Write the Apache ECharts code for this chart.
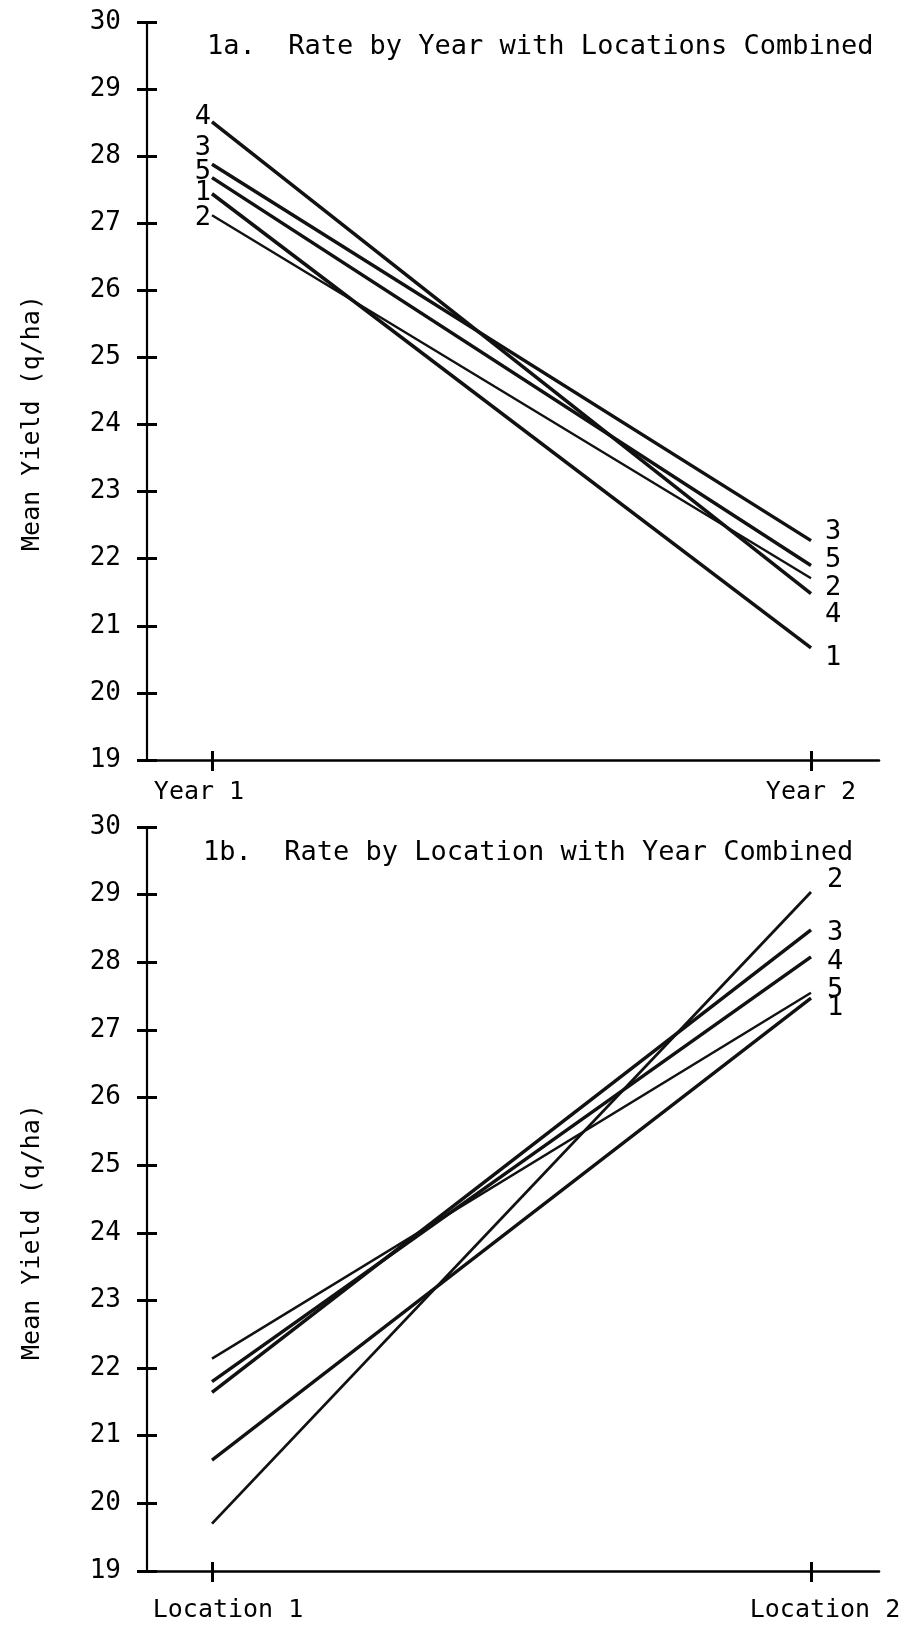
<!DOCTYPE html>
<html>
<head>
<meta charset="utf-8">
<script src="https://cdn.jsdelivr.net/npm/echarts@6/dist/echarts.min.js"></script>
<style>
html,body{margin:0;padding:0;background:#fff;}
#c{width:908px;height:1629px;}
</style>
</head>
<body>
<div id="c"></div>
<script>
// ---- data ----
const treatments = ['1', '2', '3', '4', '5'];
const yearCats = ['Year 1', 'Year 2'];
const year1 = [27.44, 27.12, 27.88, 28.51, 27.68];
const year2 = [20.67, 21.71, 22.27, 21.48, 21.90];
const year1LabelY = [27.45, 27.08, 28.12, 28.59, 27.76];
const year2LabelY = [20.52, 21.56, 22.40, 21.16, 21.98];
const locCats = ['Location 1', 'Location 2'];
const loc1 = [20.64, 19.70, 21.64, 21.80, 22.14];
const loc2 = [27.47, 29.04, 28.48, 28.08, 27.55];
const loc2LabelY = [27.32, 29.22, 28.44, 28.01, 27.59];
const yTicks = [19, 20, 21, 22, 23, 24, 25, 26, 27, 28, 29, 30];
const titleA = '1a.  Rate by Year with Locations Combined';
const titleB = '1b.  Rate by Location with Year Combined';
const yName = 'Mean Yield (q/ha)';

// ---- styling ----
const INK = '#000';
const FONT = '"DejaVu Sans Mono", monospace';
const widthsTop = [3.5, 2.4, 3.5, 3.5, 3.5];
const widthsBot = [3.3, 2.8, 3.5, 3.5, 2.4];

const chart = echarts.init(document.getElementById('c'), null, {renderer: 'canvas'});

function yAxes(gridIndex) {
  return [
    {
      gridIndex, type: 'value', position: 'left', min: yTicks[0], max: yTicks[yTicks.length - 1], interval: 1,
      axisLine: {show: true, onZero: false, lineStyle: {color: INK, width: 2.2}},
      axisTick: {show: true, inside: false, length: 10, lineStyle: {color: INK, width: 3}},
      axisLabel: {show: true, margin: 26, color: INK, fontFamily: FONT, fontSize: 26},
      splitLine: {show: false}
    },
    {
      gridIndex, type: 'value', position: 'left', min: yTicks[0], max: yTicks[yTicks.length - 1], interval: 1,
      axisLine: {show: false, onZero: false},
      axisTick: {show: true, inside: true, length: 10, lineStyle: {color: INK, width: 3}},
      axisLabel: {show: false},
      splitLine: {show: false}
    }
  ];
}

function xAxes(gridIndex, cats, pads, margin) {
  const rich = {};
  pads.forEach((p, i) => {
    rich['p' + i] = {fontFamily: FONT, fontSize: 25, color: INK, padding: p};
  });
  return [
    {
      gridIndex, type: 'value', position: 'bottom', min: -0.1085, max: 1.1135,
      axisLine: {show: true, onZero: false, lineStyle: {color: INK, width: 2.6}},
      axisTick: {show: true, inside: false, length: 11, customValues: [0, 1], lineStyle: {color: INK, width: 3}},
      axisLabel: {
        show: true, margin: margin, customValues: [0, 1],
        formatter: (v) => { const i = Math.round(v); return '{p' + i + '|' + cats[i] + '}'; },
        rich
      },
      splitLine: {show: false}
    },
    {
      gridIndex, type: 'value', position: 'bottom', min: -0.1085, max: 1.1135,
      axisLine: {show: false, onZero: false},
      axisTick: {show: true, inside: true, length: 9, customValues: [0, 1], lineStyle: {color: INK, width: 3}},
      axisLabel: {show: false},
      splitLine: {show: false}
    }
  ];
}

const series = [];
treatments.forEach((t, i) => {
  series.push({
    type: 'line', xAxisIndex: 0, yAxisIndex: 0, symbol: 'none', silent: true,
    data: [[0, year1[i]], [1, year2[i]]],
    lineStyle: {color: '#111', width: widthsTop[i]}
  });
  series.push({
    type: 'line', xAxisIndex: 2, yAxisIndex: 2, symbol: 'none', silent: true,
    data: [[0, loc1[i]], [1, loc2[i]]],
    lineStyle: {color: '#111', width: widthsBot[i]}
  });
});

function labelSeries(xi, yi, xv, ys, dx) {
  return {
    type: 'scatter', xAxisIndex: xi, yAxisIndex: yi, symbol: 'circle', symbolSize: 1, silent: true,
    itemStyle: {color: 'rgba(0,0,0,0)'},
    data: ys.map((y, i) => [xv, y, treatments[i]]),
    label: {
      show: true, position: 'inside', offset: [dx, 0],
      formatter: (p) => p.value[2],
      color: INK, opacity: 1, textBorderWidth: 0,
      fontFamily: FONT, fontSize: 27
    }
  };
}
series.push(labelSeries(0, 0, 0, year1LabelY, -9));
series.push(labelSeries(0, 0, 1, year2LabelY, 22));
series.push(labelSeries(2, 2, 1, loc2LabelY, 24));

const option = {
  backgroundColor: '#fff',
  animation: false,
  grid: [
    {left: 147, right: 29, top: 22, height: 738},
    {left: 147, right: 29, top: 827, height: 744}
  ],
  xAxis: [
    ...xAxes(0, yearCats, [[0, 26, 0, 0], [0, 0, 0, 0]], 20),
    ...xAxes(1, locCats, [[0, 0, 0, 32], [0, 0, 0, 28]], 27)
  ],
  yAxis: [...yAxes(0), ...yAxes(1)],
  graphic: [
    {type: 'text', x: 207, y: 47, style: {text: titleA, fontFamily: FONT, fontSize: 27, fill: INK, align: 'left', verticalAlign: 'middle'}},
    {type: 'text', x: 203, y: 853, style: {text: titleB, fontFamily: FONT, fontSize: 27, fill: INK, align: 'left', verticalAlign: 'middle'}},
    {type: 'text', x: 32, y: 423, rotation: Math.PI / 2, style: {text: yName, fontFamily: FONT, fontSize: 25, fill: INK, align: 'center', verticalAlign: 'middle'}},
    {type: 'text', x: 32, y: 1232, rotation: Math.PI / 2, style: {text: yName, fontFamily: FONT, fontSize: 25, fill: INK, align: 'center', verticalAlign: 'middle'}}
  ],
  series
};
chart.setOption(option);
</script>
</body>
</html>
